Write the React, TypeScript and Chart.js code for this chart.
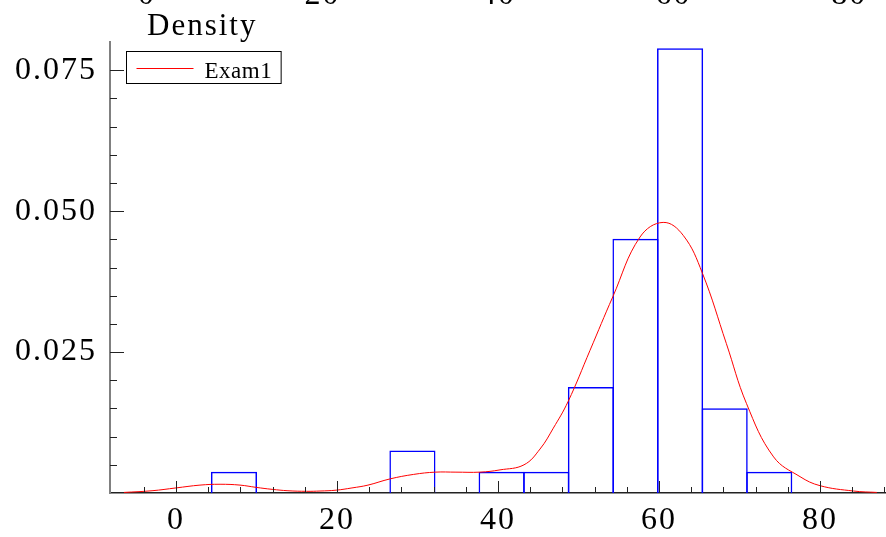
import React, { useEffect, useRef } from 'react';
import { Chart, registerables } from 'chart.js';

Chart.register(...registerables);

// Histogram (density) — bin centres and heights
const binCenters = [7.2, 29.37, 40.45, 46.0, 51.54, 57.08, 62.62, 68.16, 73.7];
const binDensity = [0.00376, 0.00752, 0.00376, 0.00376, 0.0188, 0.0451, 0.0789, 0.01504, 0.00376];

// Kernel density curve
const kdeX = [-6.46, -2.98, 0, 2.98, 5.47, 7.95, 9.94, 11.93, 13.91, 16.2, 17.89, 19.88, 21.86, 23.85, 26.58, 29.52, 32.2, 34.78, 37.76, 40.25, 43.23, 45.22, 46.87, 48.7, 51.43, 54.26, 57.64, 60.52, 63.01, 65.39, 68.37, 70.86, 74.24, 77.52, 80.0, 84.17, 87.06];
const kdeY = [0.0001, 0.0004, 0.0009, 0.0014, 0.00155, 0.0014, 0.001, 0.00065, 0.0004, 0.0003, 0.00035, 0.0005, 0.0009, 0.0014, 0.0025, 0.0033, 0.0037, 0.0037, 0.0037, 0.0041, 0.005, 0.0078, 0.0115, 0.0162, 0.0253, 0.0348, 0.0454, 0.048, 0.0457, 0.039, 0.0265, 0.0159, 0.0064, 0.0029, 0.0013, 0.00035, 0.0001];

const seriesLabel = 'Exam1';
const yAxisTitle = 'Density';

// Axis settings
const xMin = -8.2;
const xMax = 88.2;
const xTopMin = -4.21;
const xTopMax = 84.2;
const xMajorStep = 20;
const xMinorStep = 4;
const yMin = 0;
const yMax = 0.08;
const yMajorStep = 0.025;
const yMinorStep = 0.005;

const FONT = "'Liberation Serif', 'Times New Roman', serif";
const OFFSET = 30;
const W = 886;
const H = 537 + OFFSET;
const BAR_BORDER = 1.5;

const inwardTicks = {
  id: 'inwardTicks',
  afterDraw(chart: any) {
    const { ctx, chartArea, scales } = chart;
    const xs = scales.x;
    const ys = scales.y;
    ctx.save();
    ctx.strokeStyle = '#222';
    ctx.lineWidth = 1;
    const xr = Math.round(xMajorStep / xMinorStep);
    for (let k = Math.ceil((xs.min + 1) / xMinorStep); k * xMinorStep <= xs.max; k++) {
      const v = k * xMinorStep;
      const major = k % xr === 0;
      const px = Math.round(xs.getPixelForValue(v)) + 0.5;
      ctx.beginPath();
      ctx.moveTo(px, chartArea.bottom);
      ctx.lineTo(px, chartArea.bottom - (major ? 12 : 6));
      ctx.stroke();
    }
    const yr = Math.round(yMajorStep / yMinorStep);
    for (let k = 1; k * yMinorStep < ys.max - 1e-9; k++) {
      const v = k * yMinorStep;
      const major = k % yr === 0;
      const py = Math.round(ys.getPixelForValue(v)) + 0.5;
      ctx.beginPath();
      ctx.moveTo(chartArea.left, py);
      ctx.lineTo(chartArea.left + (major ? 14 : 7), py);
      ctx.stroke();
    }
    ctx.restore();
  },
};

const boxLegendAndTitle = {
  id: 'boxLegendAndTitle',
  beforeDraw(chart: any) {
    (chart.ctx as any).letterSpacing = '2px';
  },
  afterDraw(chart: any) {
    const { ctx, chartArea } = chart;
    const ds = chart.data.datasets[1];
    ctx.save();
    // y-axis title at top
    (ctx as any).letterSpacing = '2px';
    ctx.fillStyle = '#000';
    ctx.font = `31px ${FONT}`;
    ctx.textAlign = 'left';
    ctx.textBaseline = 'alphabetic';
    ctx.fillText(yAxisTitle, chartArea.left + 37, chartArea.top - 7);

    // legend box
    (ctx as any).letterSpacing = '0.5px';
    ctx.font = `23px ${FONT}`;
    const tw = ctx.measureText(ds.label).width;
    const bx = chartArea.left + 16.5;
    const by = chartArea.top + 9.5;
    const bw = 78 + tw + 9;
    const bh = 32;
    ctx.fillStyle = '#fff';
    ctx.fillRect(bx, by, bw, bh);
    ctx.strokeStyle = '#000';
    ctx.lineWidth = 1;
    ctx.strokeRect(bx, by, bw, bh);
    ctx.strokeStyle = ds.borderColor;
    ctx.beginPath();
    ctx.moveTo(bx + 10, by + 17);
    ctx.lineTo(bx + 67, by + 17);
    ctx.stroke();
    ctx.fillStyle = '#000';
    ctx.fillText(ds.label, bx + 78, by + 26.5);
    ctx.restore();
  },
};

const noSidePadding = (s: any) => {
  s.paddingLeft = 0;
  s.paddingRight = 0;
};

export default function App() {
  const ref = useRef<HTMLCanvasElement | null>(null);

  useEffect(() => {
    if (!ref.current) return;
    const chart = new Chart(ref.current, {
      type: 'bar',
      data: {
        datasets: [
          {
            type: 'bar',
            label: 'hist',
            data: binCenters.map((x, i) => ({ x, y: binDensity[i] })),
            backgroundColor: 'rgba(0,0,0,0)',
            borderColor: '#0000ff',
            borderWidth: BAR_BORDER,
            borderSkipped: 'bottom',
            inflateAmount: 0,
            barPercentage: 1.034,
            categoryPercentage: 1,
            order: 1,
            xAxisID: 'x',
            yAxisID: 'y',
          } as any,
          {
            type: 'line',
            label: seriesLabel,
            data: kdeX.map((x, i) => ({ x, y: kdeY[i] })),
            borderColor: '#ff0000',
            borderWidth: 1,
            pointRadius: 0,
            fill: false,
            tension: 0.4,
            order: 0,
            xAxisID: 'x',
            yAxisID: 'y',
          } as any,
        ],
      },
      options: {
        animation: false,
        responsive: false,
        devicePixelRatio: 1,
        layout: { padding: 0 },
        plugins: {
          legend: { display: false },
          tooltip: { enabled: false },
          title: { display: false },
        },
        scales: {
          x: {
            type: 'linear',
            position: 'bottom',
            min: xMin,
            max: xMax,
            offset: false,
            grid: { display: false, drawTicks: false },
            border: { display: true, color: '#222', width: 1.5 },
            ticks: {
              stepSize: xMajorStep,
              includeBounds: false,
              padding: 8,
              color: '#000',
              font: { family: FONT, size: 32 },
              maxRotation: 0,
              autoSkip: false,
            },
            afterFit: (s: any) => {
              s.height = 44;
              noSidePadding(s);
            },
          },
          x2: {
            type: 'linear',
            position: 'top',
            min: xTopMin,
            max: xTopMax,
            offset: false,
            grid: { display: false, drawTicks: true, tickLength: 27 },
            border: { display: false },
            ticks: {
              stepSize: xMajorStep,
              includeBounds: false,
              padding: 0,
              color: '#000',
              font: { family: FONT, size: 32 },
              maxRotation: 0,
              autoSkip: false,
            },
            afterFit: (s: any) => {
              s.height = 42 + OFFSET;
              noSidePadding(s);
            },
          },
          y: {
            type: 'linear',
            position: 'left',
            min: yMin,
            max: yMax,
            grid: { display: false, drawTicks: false },
            border: { display: true, color: '#808080', width: 2 },
            ticks: {
              stepSize: yMajorStep,
              includeBounds: false,
              padding: 13,
              color: '#000',
              font: { family: FONT, size: 32 },
              callback: (v: any) => (Number(v) === 0 ? '' : Number(v).toFixed(3)),
            },
            afterFit: (s: any) => {
              s.width = 110;
            },
          },
        },
      } as any,
      plugins: [inwardTicks, boxLegendAndTitle],
    });
    return () => chart.destroy();
  }, []);

  return (
    <div style={{ position: 'fixed', left: 0, top: -OFFSET, width: W, height: H, background: '#fff' }}>
      <canvas ref={ref} width={W} height={H} style={{ display: 'block', width: W, height: H }} />
    </div>
  );
}
